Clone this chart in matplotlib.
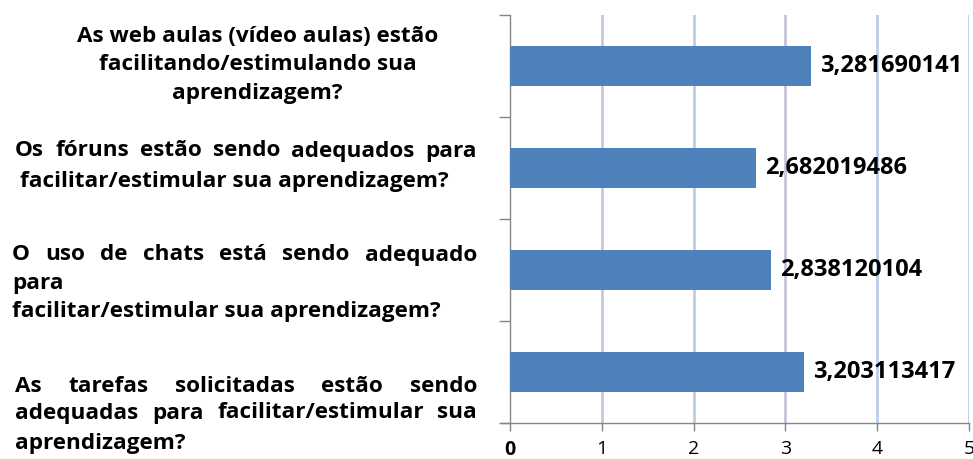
import matplotlib
matplotlib.use('Agg')
import matplotlib.pyplot as plt

# data (top to bottom as shown)
questions = [
    'As web aulas (vídeo aulas) estão\nfacilitando/estimulando sua\naprendizagem?',
    'Os fóruns estão sendo adequados para\nfacilitar/estimular sua aprendizagem?',
    'O uso de chats está sendo adequado\npara\nfacilitar/estimular sua aprendizagem?',
    'As tarefas solicitadas estão sendo\nadequadas para facilitar/estimular sua\naprendizagem?',
]
medias = [3.281690141, 2.682019486, 2.838120104, 3.203113417]
media_labels = ['3,281690141', '2,682019486', '2,838120104', '3,203113417']
xticks = [0, 1, 2, 3, 4, 5]

W, H = 973, 459
plt.rcParams['font.family'] = ['Open Sans', 'DejaVu Sans']
fig = plt.figure(figsize=(W / 100, H / 100), dpi=100)
ax = fig.add_axes([510 / W, 1 - 423 / H, (969 - 510) / W, (423 - 15) / H])

n = len(questions)
pos = [n - 1 - i + 0.5 for i in range(n)]
ax.barh(pos, medias, height=0.4, color='#4f81bd', zorder=3)
for p, v, s in zip(pos, medias, media_labels):
    ax.text(v + 0.1, p, s, va='center', ha='left', fontsize=17,
            fontweight='bold', color='black', zorder=4)

ax.set_xlim(0, 5)
ax.set_ylim(0, n)
ax.set_xticks(xticks)
ax.set_xticklabels([str(t) for t in xticks], fontsize=14)
ax.get_xticklabels()[0].set_fontweight('bold')
ax.set_yticks(range(n + 1))
ax.set_yticklabels([])
ax.tick_params(axis='x', length=6, width=1, color='#868686', pad=6)
ax.tick_params(axis='y', length=8, width=1, color='#868686')
for sp in ['top', 'right']:
    ax.spines[sp].set_visible(False)
for sp in ['left', 'bottom']:
    ax.spines[sp].set_color('#868686')
    ax.spines[sp].set_linewidth(1)
ax.spines['bottom'].set_bounds(-0.1, 5)
ax.spines['bottom'].set_clip_on(False)

grid_cols = ['#c9c7e0', '#bccdea', '#c7c3dc', '#bccdea', '#bccdea']
for t, c in zip(xticks[1:], grid_cols):
    ax.axvline(t, color=c, lw=2, zorder=1)

# question labels, mostly justified like the original layout
fig.canvas.draw()
r = fig.canvas.get_renderer()
fs = 16.2


def word_w(w):
    t = fig.text(0, 0, w, fontsize=fs, fontweight='bold')
    bb = t.get_window_extent(r)
    t.remove()
    return bb.width


def put_line(line, y, mode, x0, x1):
    yf = 1 - y / H
    if mode == 'center':
        fig.text((x0 + x1) / 2 / W, yf, line, fontsize=fs, fontweight='bold',
                 ha='center', va='center')
    elif mode == 'left':
        fig.text(x0 / W, yf, line, fontsize=fs, fontweight='bold',
                 ha='left', va='center')
    else:
        words = line.split(' ')
        ws = [word_w(w) for w in words]
        gap = (x1 - x0 - sum(ws)) / (len(words) - 1)
        x = x0
        for w, wd in zip(words, ws):
            fig.text(x / W, yf, w, fontsize=fs, fontweight='bold',
                     ha='left', va='center')
            x += wd + gap


layout = [
    ([36, 64, 94], ['center', 'center', 'center'], 75, 440),
    ([151, 181], ['just', 'left'], 15, 477),
    ([255, 284, 312], ['just', 'left', 'left'], 12, 477),
    ([387, 413, 443], ['just', 'just', 'left'], 15, 477),
]
for q, (ys, modes, x0, x1) in zip(questions, layout):
    lines = q.split('\n')
    for k, (line, y, m) in enumerate(zip(lines, ys, modes)):
        xs = x0
        if q.startswith('Os') and k == 1:
            xs = x0 + 5
        put_line(line, y, m, xs, x1)

fig.savefig('out.png', dpi=100)
